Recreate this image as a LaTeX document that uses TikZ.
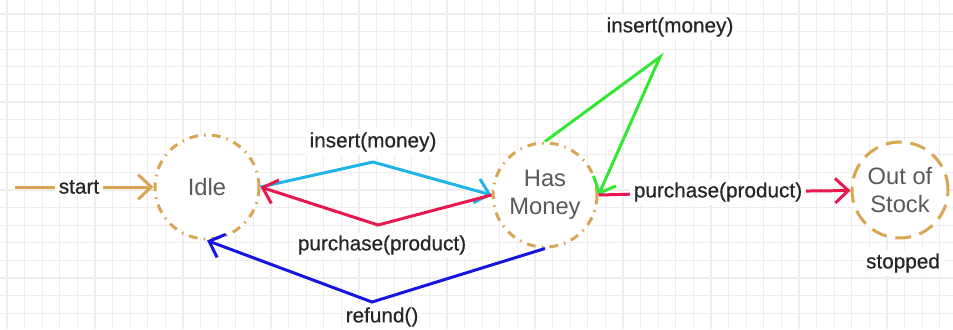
\documentclass[tikz,border=0pt]{standalone}
\usepackage{fontspec}
\setmainfont{Liberation Sans}
\newfontfamily\lblfont[FakeBold=0.6]{Liberation Sans}
\usetikzlibrary{arrows.meta}

\definecolor{stateline}{HTML}{D9A552}
\definecolor{insertcol}{HTML}{1EB4E6}
\definecolor{buycol}{HTML}{E8174F}
\definecolor{refundcol}{HTML}{1515E0}
\definecolor{greencol}{HTML}{33E633}
\definecolor{gridcol}{HTML}{EDEDED}

\tikzset{
  state/.style={circle, fill=white, draw=stateline, line width=1.7pt,
    minimum size=2.08cm, inner sep=0pt, align=center, text=black!65,
    font=\fontsize{13.5}{16}\selectfont},
  dashdot/.style={dash pattern=on 5pt off 3.5pt on 0.9pt off 3.5pt},
  lbl/.style={fill=white, inner sep=2pt, text=black!85,
    font=\lblfont\fontsize{11.8}{14}\selectfont},
  trans/.style={line width=1.7pt, -{Straight Barb[length=7.5pt,width=14pt,line width=1.7pt]}},
  plain/.style={line width=1.7pt}
}

\begin{document}
\begin{tikzpicture}[x=0.02cm, y=-0.02cm]
        \useasboundingbox (0,0) rectangle (953,329);
        \fill[white] (0,0) rectangle (953,329);

        % background grid
        \foreach \gx in {7,24.6,...,953}
          \draw[gridcol, line width=0.6pt] (\gx,0) -- (\gx,329);
        \foreach \gy in {14,31.6,...,329}
          \draw[gridcol, line width=0.6pt] (0,\gy) -- (953,\gy);

        % states
        \node[state, dashdot] (idle) at (207,187) {Idle};
        \node[state, dashdot] (hasmoney) at (545,195) {Has\\Money};
        \node[state, dash pattern=on 9pt off 5pt, minimum size=1.92cm] (outstock) at (900,190) {Out of\\Stock};
        \node[lbl] (stopped) at (903,263) {stopped};

        % start
        \coordinate (start0) at (15,187);
        \node[lbl] (startlbl) at (79,187) {start};
        \draw[plain, stateline] (start0) -- (startlbl);
        \draw[trans, stateline] (startlbl) -- (idle);

        % bend points
        \coordinate (ins1) at (373,162);
        \coordinate (buy1) at (378,225);
        \coordinate (ref1) at (372,302);
        \coordinate (ins2) at (660,57);

        % idle <-> has money
        \draw[trans, insertcol] (idle.east) -- (ins1) -- (hasmoney.west);
        \node[lbl] (inslbl) at (373,142) {insert(money)};
        \draw[trans, buycol] (hasmoney.west) -- (buy1) -- (idle.east);
        \node[lbl] (buylbl) at (382,245) {purchase(product)};
        \draw[trans, refundcol] (hasmoney.south) -- (ref1) -- (idle.south);
        \node[lbl] (reflbl) at (382,317) {refund()};

        % self loop on has money
        \draw[trans, greencol] (hasmoney.north) -- (ins2) -- (hasmoney.east);
        \node[lbl] (ins2lbl) at (670,27) {insert(money)};

        % has money -> out of stock
        \node[lbl] (buy2lbl) at (718,192) {purchase(product)};
        \draw[plain, buycol] (hasmoney.east) -- (buy2lbl);
        \draw[trans, buycol] (buy2lbl) -- (outstock);

    \end{tikzpicture}
\end{document}
